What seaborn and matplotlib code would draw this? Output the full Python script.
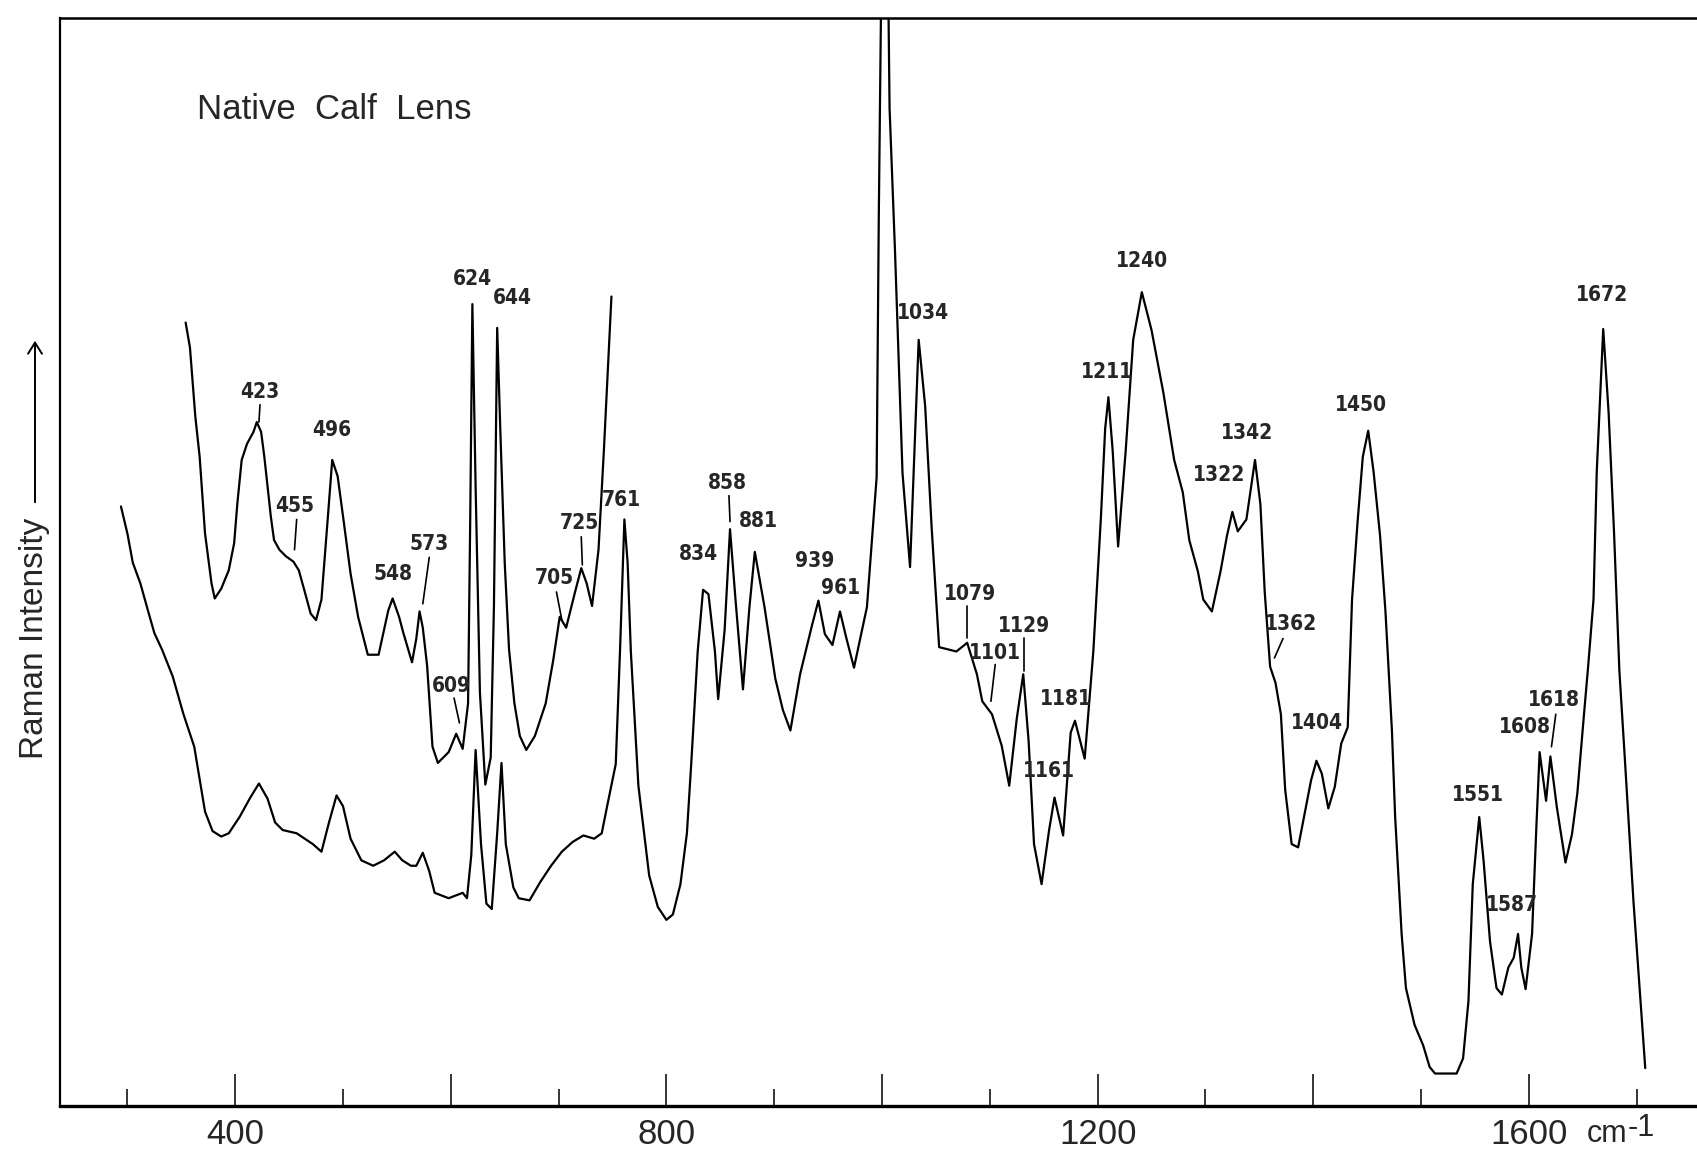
import matplotlib
matplotlib.use("Agg")
import matplotlib.pyplot as plt
import seaborn as sns
import pandas as pd
from matplotlib.ticker import FixedLocator, FuncFormatter

# ---------------- data (wavenumber cm-1, Raman intensity arb. units) ----------------
full_wn = [294, 300, 305, 312, 319, 325, 332, 342, 352, 362, 367, 372, 379, 387, 394, 404, 414, 422,
           430, 437, 444, 457, 472, 480, 487, 494, 500, 507, 517, 528, 538, 548, 555, 563, 568, 574,
           580, 585, 598, 611, 615, 619, 623, 628, 633, 638, 643, 647, 651, 658, 663, 673, 683, 693,
           703, 713, 723, 733, 740, 745, 753, 757, 761, 764, 767, 774, 784, 792, 800, 806, 813, 819,
           823, 829, 834, 839, 845, 848, 854, 859, 864, 871, 877, 882, 891, 901, 908, 915, 924, 935,
           941, 947, 954, 961, 967, 974, 986, 995, 997, 1000, 1005, 1007, 1012, 1019, 1026, 1034,
           1040, 1046, 1053, 1069, 1079, 1088, 1093, 1102, 1111, 1118, 1125, 1131, 1136, 1141, 1148,
           1155, 1160, 1168, 1175, 1179, 1188, 1196, 1203, 1207, 1210, 1214, 1219, 1226, 1233, 1241,
           1250, 1261, 1271, 1279, 1285, 1293, 1298, 1306, 1314, 1320, 1325, 1330, 1338, 1346, 1351,
           1355, 1360, 1365, 1370, 1374, 1380, 1386, 1392, 1398, 1403, 1408, 1414, 1420, 1426, 1432,
           1436, 1441, 1446, 1451, 1456, 1462, 1467, 1473, 1476, 1482, 1486, 1494, 1502, 1508, 1513,
           1533, 1539, 1544, 1548, 1554, 1558, 1564, 1570, 1575, 1581, 1586, 1590, 1593, 1597, 1603,
           1607, 1610, 1616, 1620, 1626, 1634, 1640, 1645, 1651, 1655, 1660, 1663, 1669, 1674, 1679,
           1684, 1689, 1697, 1708]
full_int = [554, 529, 502, 483, 458, 437, 422, 397, 362, 332, 302, 272, 254, 249, 252, 267, 285, 298,
            284, 262, 255, 252, 242, 235, 262, 287, 277, 247, 227, 222, 227, 235, 227, 222, 222, 234,
            217, 197, 192, 197, 192, 232, 329, 242, 187, 182, 252, 317, 242, 202, 192, 190, 207, 222,
            235, 244, 250, 247, 252, 277, 316, 422, 542, 502, 420, 296, 213, 184, 172, 177, 205, 252,
            316, 420, 477, 473, 420, 376, 440, 533, 469, 385, 461, 512, 461, 395, 366, 347, 399, 444,
            467, 436, 426, 457, 432, 405, 461, 581, 822, 1102, 1102, 922, 791, 585, 498, 708,
            647, 535, 424, 420, 428, 399, 374, 362, 333, 296, 358, 399, 337, 242, 205,
            255, 285, 250, 345, 356, 321, 420, 543, 626, 655, 605, 517, 605, 708, 752,
            717, 659, 597, 567, 523, 494, 468, 457, 494, 527, 549, 531, 542, 597, 556,
            475, 406, 391, 362, 292, 242, 239, 270, 301, 319, 307, 275, 295, 335, 350,
            468, 538, 600, 624, 586, 527, 457, 347, 267, 159, 109, 75, 56, 36, 30,
            30, 44, 97, 205, 267, 227, 152, 109, 103, 128, 137, 159, 128, 108, 159,
            258, 327, 282, 323, 276, 225, 251, 289, 360, 406, 468, 586, 718, 641, 531,
            402, 322, 190, 35]

expanded_wn = [354, 358, 363, 367, 372, 378, 381, 387, 394, 399, 402, 406, 411, 417, 420, 424, 427,
               433, 436, 441, 447, 454, 459, 464, 470, 475, 480, 486, 490, 495, 500, 507, 514, 523,
               533, 542, 546, 552, 556, 564, 568, 571, 574, 578, 583, 588, 598, 605, 611, 616, 618,
               620, 623, 627, 632, 637, 640, 643, 646, 650, 654, 659, 664, 670, 678, 688, 695, 701,
               707, 715, 721, 726, 731, 737, 742, 749]
expanded_int = [724, 701, 637, 600, 529, 483, 469, 478, 495, 520, 557, 597, 612, 623, 632, 623, 600,
                545, 523, 514, 508, 503, 495, 477, 455, 449, 468, 545, 597, 582, 545, 492, 452, 417,
                417, 458, 469, 452, 437, 410, 432, 457, 442, 407, 332, 317, 327, 344, 330, 372, 542,
                741, 572, 382, 297, 322, 462, 719, 622, 502, 422, 372, 342, 329, 342, 372, 412, 452,
                442, 474, 497, 483, 462, 514, 606, 748]

peak_labels = ["423", "455", "496", "548", "573", "609", "624", "644", "705", "725", "761", "834",
               "858", "881", "939", "961", "1034", "1079", "1101", "1129", "1161", "1181", "1211",
               "1240", "1322", "1342", "1362", "1404", "1450", "1551", "1587", "1608", "1618", "1672"]

tick_values = [400, 800, 1200, 1600]
unit_text = "cm"
unit_exp = "-1"
title_text = "Native  Calf  Lens"
ylabel_text = "Raman Intensity"

# ---------------- layout (label anchor positions in data coords) ----------------
label_pos = [(423, 660), (455, 554), (490, 625), (546, 492), (580, 519), (601, 388), (620, 764),
             (657, 747), (696, 488), (719, 539), (758, 560), (830, 510), (857, 576), (885, 541),
             (938, 504), (962, 479), (1038, 733), (1082, 473), (1105, 419), (1132, 444), (1155, 310),
             (1171, 376), (1209, 678), (1241, 781), (1313, 583), (1339, 622), (1379, 445),
             (1403, 354), (1444, 648), (1553, 287), (1584, 186), (1596, 350), (1623, 375), (1668, 749)]
leaders = [((423, 648), (422, 632)), ((457, 542), (455, 514)), ((580, 507), (574, 464)),
           ((603, 377), (608, 354)), ((698, 475), (703, 449)), ((721, 526), (722, 500)),
           ((858, 564), (859, 540)), ((1079, 462), (1079, 432)), ((1105, 408), (1101, 374)),
           ((1132, 432), (1132, 402)), ((1372, 432), (1364, 414)), ((1625, 362), (1621, 332))]

sns.set_style("white")
plt.rcParams['font.family'] = ['Liberation Sans', 'DejaVu Sans']

W, H = 1697, 1156
fig = plt.figure(figsize=(W / 100, H / 100), dpi=100)
ax = fig.add_axes([59.5 / W, 1 - 1106 / H, 1 - 59.5 / W, (1106 - 18.4) / H])

df_full = pd.DataFrame({"wn": full_wn, "I": full_int})
df_exp = pd.DataFrame({"wn": expanded_wn, "I": expanded_int})
sns.lineplot(data=df_full, x="wn", y="I", ax=ax, sort=False, estimator=None, color="black", lw=1.6)
sns.lineplot(data=df_exp, x="wn", y="I", ax=ax, sort=False, estimator=None, color="black", lw=1.6)

ax.set_xlim(237, 1756)
ax.set_ylim(0, 1005)
ax.set_xlabel("")
ax.set_ylabel("")

for s in ["left", "top", "bottom"]:
    ax.spines[s].set_visible(True)
    ax.spines[s].set_color("black")
ax.spines["right"].set_visible(False)
ax.spines["bottom"].set_linewidth(2.4)
ax.spines["top"].set_linewidth(1.8)
ax.spines["left"].set_linewidth(1.6)

ax.xaxis.set_major_locator(FixedLocator(list(range(400, 1700, 200))))
ax.xaxis.set_minor_locator(FixedLocator(list(range(300, 1800, 200))))
ax.xaxis.set_major_formatter(FuncFormatter(lambda v, p: str(int(v)) if int(v) in tick_values else ""))
ax.tick_params(axis="x", which="major", direction="in", length=23, width=1.3, pad=9,
               labelsize=25, bottom=True, top=False)
ax.tick_params(axis="x", which="minor", direction="in", length=12, width=1.3, bottom=True, top=False)
ax.set_yticks([])
for lab in ax.get_xticklabels():
    lab.set_family(['Liberation Sans', 'DejaVu Sans'])

ax.text(1673, -0.033, unit_text, transform=ax.get_xaxis_transform(), ha="center", va="baseline",
        fontsize=22, family=['Liberation Sans'], clip_on=False)
ax.text(1704, -0.028, unit_exp, transform=ax.get_xaxis_transform(), ha="center", va="baseline",
        fontsize=22, family=['Liberation Sans'], clip_on=False)

for txt, (x, y) in zip(peak_labels, label_pos):
    ax.text(x, y, txt, ha="center", va="center", fontsize=15, fontweight="bold",
            family=['DejaVu Sans'], fontstretch='condensed')
for (p0, p1) in leaders:
    ax.plot([p0[0], p1[0]], [p0[1], p1[1]], color="black", lw=1.2)

ax.text(365, 921, title_text, ha="left", va="center", fontsize=25)

fig.text(35 / W, 1 - 638 / H, ylabel_text, rotation=90, ha="center", va="center", fontsize=24)
fig.patches.append(matplotlib.patches.FancyArrowPatch(
    (35 / W, 1 - 505 / H), (35 / W, 1 - 338 / H), transform=fig.transFigure,
    arrowstyle="->,head_length=8,head_width=5", lw=1.4, color="black"))

fig.savefig("out.png", dpi=100, facecolor="white")
